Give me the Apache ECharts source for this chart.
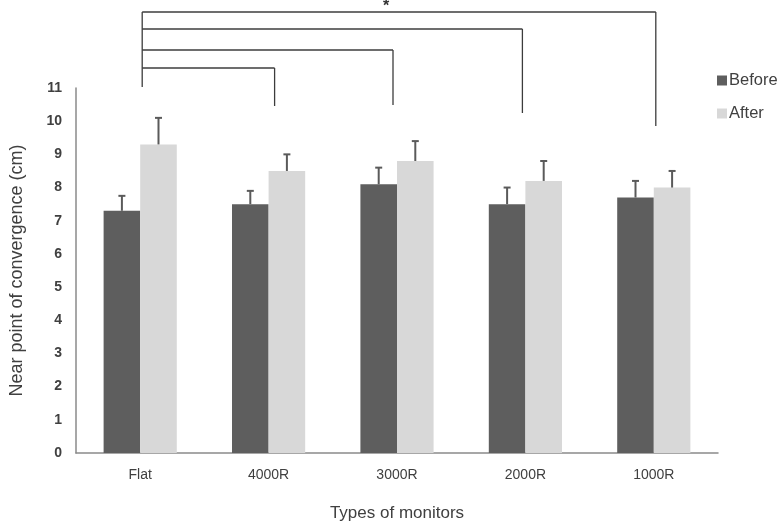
<!DOCTYPE html>
<html>
<head>
<meta charset="utf-8">
<script src="https://cdn.jsdelivr.net/npm/echarts@6/dist/echarts.min.js"></script>
<style>html,body{margin:0;padding:0;background:#fff}#c{width:780px;height:527px}</style>
</head>
<body>
<div id="c"></div>
<script>
var categories = ['Flat', '4000R', '3000R', '2000R', '1000R'];
var beforeMean = [7.3, 7.5, 8.1, 7.5, 7.7];
var beforeUpper = [7.75, 7.9, 8.6, 8.0, 8.2];
var afterMean = [9.3, 8.5, 8.8, 8.2, 8.0];
var afterUpper = [10.1, 9.0, 9.4, 8.8, 8.5];
var yTicks = [0, 1, 2, 3, 4, 5, 6, 7, 8, 9, 10, 11];
// significance comparisons: Flat vs each curved monitor
var comparisons = [['Flat', '4000R'], ['Flat', '3000R'], ['Flat', '2000R'], ['Flat', '1000R']];
var sigLabel = '*';

var BAR_W = 0.285;
var chart = echarts.init(document.getElementById('c'));

function errSeries(name, means, uppers, side) {
  return {
    type: 'custom',
    name: name + ' err',
    z: 5,
    data: categories.map(function (c, i) { return [i, means[i], uppers[i]]; }),
    renderItem: function (params, api) {
      var band = api.size([1, 0])[0];
      var off = side * band * BAR_W / 2;
      var p0 = api.coord([api.value(0), api.value(1)]);
      var p1 = api.coord([api.value(0), api.value(2)]);
      var x = p0[0] + off;
      var st = { stroke: '#5a5a5a', lineWidth: 2 };
      return {
        type: 'group',
        children: [
          { type: 'line', shape: { x1: x, y1: p0[1], x2: x, y2: p1[1] }, style: st },
          { type: 'line', shape: { x1: x - 3.5, y1: p1[1], x2: x + 3.5, y2: p1[1] }, style: st }
        ]
      };
    },
    silent: true,
    legendHoverLink: false
  };
}

chart.setOption({
  animation: false,
  backgroundColor: '#ffffff',
  grid: { left: 71, top: 88, width: 647, height: 370, containLabel: false },
  legend: {
    data: [{ name: 'Before', icon: 'rect' }, { name: 'After', icon: 'rect' }],
    orient: 'vertical',
    left: 712,
    top: 67,
    itemWidth: 10,
    itemHeight: 10,
    itemGap: 16,
    textStyle: { fontFamily: 'Liberation Sans', fontSize: 16.5, color: '#404040', padding: [0, 0, 0, -3] }
  },
  xAxis: {
    type: 'category',
    data: categories,
    axisLine: { lineStyle: { color: '#8a8a8a', width: 1.5 } },
    axisTick: { show: false },
    axisLabel: { fontFamily: 'Liberation Sans', fontSize: 14, color: '#404040', margin: 15 },
    name: 'Types of monitors',
    nameLocation: 'middle',
    nameGap: 52,
    nameTextStyle: { fontFamily: 'Liberation Sans', fontSize: 17, color: '#404040' }
  },
  yAxis: {
    type: 'value',
    min: yTicks[0],
    max: yTicks[yTicks.length - 1],
    interval: 1,
    splitLine: { show: false },
    axisLine: { show: true, lineStyle: { color: '#8a8a8a', width: 1.5 } },
    axisTick: { show: false },
    axisLabel: { fontFamily: 'Liberation Sans', fontSize: 14, fontWeight: 'bold', color: '#404040', margin: 14 },
    name: 'Near point of convergence (cm)',
    nameLocation: 'middle',
    nameGap: 50,
    nameTextStyle: { fontFamily: 'Liberation Sans', fontSize: 18, color: '#404040' }
  },
  series: [
    { type: 'bar', name: 'Before', data: beforeMean, barWidth: (BAR_W * 100) + '%', barGap: '0%', itemStyle: { color: '#5e5e5e' } },
    { type: 'bar', name: 'After', data: afterMean, barWidth: (BAR_W * 100) + '%', barGap: '0%', itemStyle: { color: '#d8d8d8' } },
    errSeries('Before', beforeMean, beforeUpper, -1),
    errSeries('After', afterMean, afterUpper, 1)
  ]
});

// significance brackets (layout in pixels, x from category positions)
var levelY = [68, 50, 29, 12];      // horizontal line heights per comparison
var dropEnd = [106, 105, 113, 126];  // right-hand drop ends
var xNudge = [6, -4, -3, 2];         // small offsets of right ends from category centre
var leftNudge = 2;
var g = [];
var lineSt = { stroke: '#3c3c3c', lineWidth: 1.3 };
var leftX = chart.convertToPixel({ xAxisIndex: 0 }, comparisons[0][0]) + leftNudge;
g.push({ type: 'line', shape: { x1: leftX, y1: levelY[3], x2: leftX, y2: 87 }, style: lineSt });
comparisons.forEach(function (cmp, i) {
  var rx = chart.convertToPixel({ xAxisIndex: 0 }, cmp[1]) + xNudge[i];
  g.push({ type: 'line', shape: { x1: leftX, y1: levelY[i], x2: rx, y2: levelY[i] }, style: lineSt });
  g.push({ type: 'line', shape: { x1: rx, y1: levelY[i], x2: rx, y2: dropEnd[i] }, style: lineSt });
});
var topRight = chart.convertToPixel({ xAxisIndex: 0 }, comparisons[3][1]) + xNudge[3];
g.push({
  type: 'text',
  x: (leftX + topRight) / 2 - 13,
  y: -1,
  style: { text: sigLabel, font: 'bold 16px "Liberation Sans"', fill: '#333', textAlign: 'center', textVerticalAlign: 'top' }
});
chart.setOption({ graphic: g });
</script>
</body>
</html>
